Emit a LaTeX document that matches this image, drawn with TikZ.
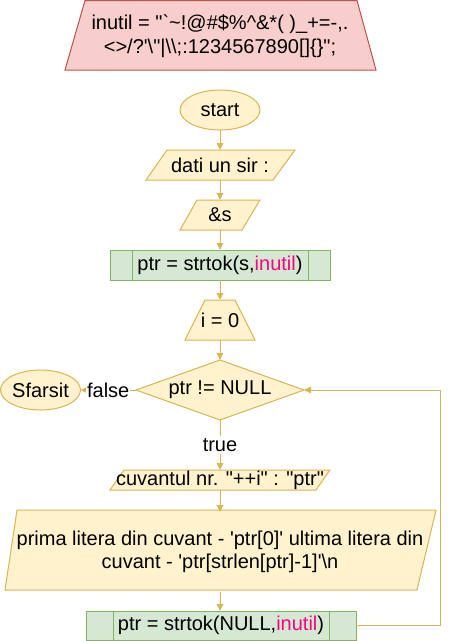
\documentclass[tikz,border=0pt]{standalone}
\usepackage{fontspec}
\setmainfont{Liberation Sans}
\usetikzlibrary{arrows.meta}
\definecolor{yfill}{HTML}{FFF2CC}
\definecolor{ystroke}{HTML}{D6B656}
\definecolor{gfill}{HTML}{D5E8D4}
\definecolor{gstroke}{HTML}{82B366}
\definecolor{rfill}{HTML}{F8CECC}
\definecolor{rstroke}{HTML}{B85450}
\definecolor{hotpink}{HTML}{FF0080}
\newcommand{\dq}{\textquotedbl}
\newcommand{\sq}{\textquotesingle}
\begin{document}
\begin{tikzpicture}[x=1pt,y=-1pt,
  txt/.style={font=\fontsize{20}{23.5}\selectfont, inner sep=0pt, outer sep=0pt, align=center, text=black},
  yshape/.style={fill=yfill, draw=ystroke, line width=1pt},
  gshape/.style={fill=gfill, draw=gstroke, line width=1pt},
  rshape/.style={fill=rfill, draw=rstroke, line width=1pt},
  flow/.style={draw=ystroke, line width=1pt, -{Triangle[length=7pt,width=6.5pt]}},
  lbl/.style={txt, fill=white, inner xsep=1pt, inner ysep=2pt}
]
\useasboundingbox (0,0) rectangle (450,641);

% red header
\draw[rshape] (85,0.5) -- (357,0.5) -- (376,70) -- (65,70) -- cycle;
\node[txt, minimum width=311pt, minimum height=70pt] (inutil) at (220,36)
  {inutil = \dq\textasciigrave\textasciitilde!@\#\$\%\textasciicircum\&*( )\_+=-,.\\
   <>/?\sq\textbackslash\dq|\textbackslash\textbackslash;:1234567890[]\{\}\dq;};

% start
\draw[yshape] (220,110) ellipse [x radius=40pt, y radius=20pt];
\node[txt, minimum width=80pt, minimum height=40pt] (start) at (220,110) {start};

% dati un sir
\draw[yshape] (167,150) -- (295,150) -- (273,180) -- (146,180) -- cycle;
\node[txt, minimum width=149pt, minimum height=30pt] (dati) at (220,165) {dati un sir :};

% &s
\draw[yshape] (197,200) -- (260,200) -- (242,230) -- (180,230) -- cycle;
\node[txt, minimum width=80pt, minimum height=30pt] (amps) at (220,215) {\&s};

% strtok 1
\node[txt, gshape, minimum width=220pt, minimum height=30pt] (s1) at (220,265)
  {ptr = strtok(s,\textcolor{hotpink}{inutil})};
\draw[gstroke, line width=1pt] ([xshift=22pt]s1.north west) -- ([xshift=22pt]s1.south west);
\draw[gstroke, line width=1pt] ([xshift=-22pt]s1.north east) -- ([xshift=-22pt]s1.south east);

% i = 0
\draw[yshape] (205,300) -- (235,300) -- (255,340) -- (185,340) -- cycle;
\node[txt, minimum width=70pt, minimum height=40pt] (i0) at (220,320) {i = 0};

% condition
\draw[yshape] (220,360) -- (304,390) -- (220,420) -- (136,390) -- cycle;
\node[txt, minimum width=168pt, minimum height=60pt] (cond) at (220,390) {ptr != NULL};

% end
\draw[yshape] (40.5,390) ellipse [x radius=40pt, y radius=20pt];
\node[txt, minimum width=80pt, minimum height=40pt] (end) at (40.5,390) {Sfarsit};

% cuvantul
\draw[yshape] (124,470) -- (330,470) -- (316,490) -- (110,490) -- cycle;
\node[txt, minimum width=220pt, minimum height=20pt] (cuv) at (220,480) {cuvantul nr. \dq++i\dq{} : \dq ptr\dq};

% big output
\draw[yshape] (17,510) -- (436,510) -- (417,590) -- (5,590) -- cycle;
\node[txt, minimum width=431pt, minimum height=80pt] (big) at (220,552)
  {prima litera din cuvant - \sq ptr[0]\sq{} ultima litera din\\
   cuvant - \sq ptr[strlen[ptr]-1]\sq\textbackslash n};

% strtok 2
\node[txt, gshape, minimum width=270pt, minimum height=29pt] (s2) at (221,625.5)
  {ptr = strtok(NULL,\textcolor{hotpink}{inutil})};
\draw[gstroke, line width=1pt] ([xshift=27pt]s2.north west) -- ([xshift=27pt]s2.south west);
\draw[gstroke, line width=1pt] ([xshift=-27pt]s2.north east) -- ([xshift=-27pt]s2.south east);

\coordinate (loopx) at (440,0);

% connectors
\draw[flow] (start.south) -- (dati.north);
\draw[flow] (dati.south) -- (amps.north);
\draw[flow] (amps.south) -- (s1.north);
\draw[flow] (s1.south) -- (i0.north);
\draw[flow] (i0.south) -- (cond.north);
\draw[flow] (cond.west) -- node[lbl] {false} (end.east);
\draw[flow] (cond.south) -- node[lbl] {true} (cuv.north);
\draw[flow] (cuv.south) -- (big.north);
\draw[flow] (big.south) -- (big.south |- s2.north);
\draw[flow] (s2.east) -| (loopx |- cond.east) -- (cond.east);
\end{tikzpicture}
\end{document}
